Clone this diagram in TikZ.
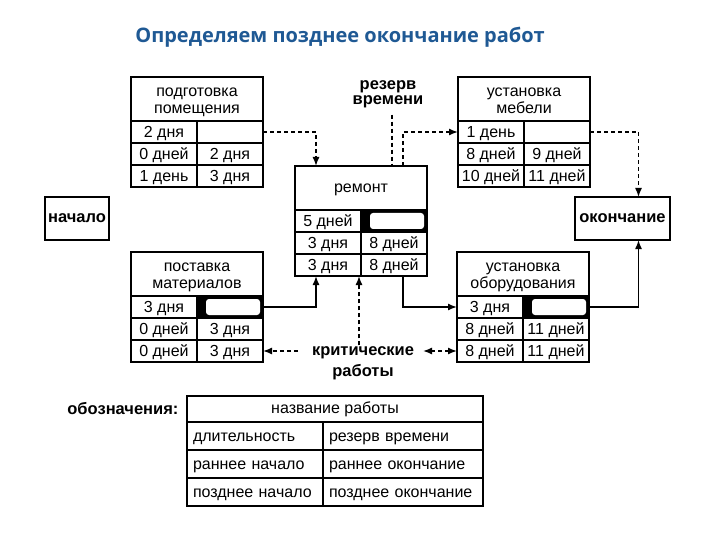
\documentclass[tikz,border=0pt]{standalone}
\usepackage{fontspec}
\setmainfont{Liberation Sans}
\newfontfamily\titlefont{Open Sans}
\usetikzlibrary{arrows.meta, positioning, calc}
\definecolor{titleblue}{RGB}{31,89,148}

\tikzset{
  cellfont/.style={font=\fontsize{16}{17}\selectfont},
  head/.style={draw, line width=1.5pt, outer sep=0pt, inner sep=0pt,
    minimum width=132pt, minimum height=44pt, align=center,
    text height=28.5pt, text depth=0pt, cellfont},
  onehead/.style={text height=8.5pt, text depth=0pt},
  cell/.style={draw, line width=1.5pt, outer sep=0pt, inner sep=0pt,
    minimum width=66pt, minimum height=22pt, text height=11.5pt, text depth=0pt, cellfont},
  blot/.style={cell, fill=black, path picture={
    \fill[white, rounded corners=3pt]
      ([xshift=9pt,yshift=-3pt]path picture bounding box.north west) rectangle
      ([xshift=-3pt,yshift=3pt]path picture bounding box.south east);}},
  endbox/.style={draw, line width=1.5pt, outer sep=0pt, minimum height=43pt,
    inner sep=2pt, font=\fontsize{16.5}{18}\selectfont\bfseries},
  label/.style={align=center, font=\fontsize{16.5}{16}\selectfont\bfseries},
  legcell/.style={draw, line width=1.5pt, outer sep=0pt, inner sep=6pt,
    minimum height=28pt, text height=11.5pt, text depth=0pt,
    anchor=north west, align=left, cellfont},
  conn/.style={line width=1.4pt, -{Latex[length=9pt,width=7pt]}},
  dconn/.style={conn, dash pattern=on 4pt off 3pt},
  dline/.style={line width=1.4pt, dash pattern=on 4pt off 3pt}
}

% box of one work: title, then three rows of two cells
\newcommand{\workbox}[9]{%
  \node[head, anchor=north west, #2] (#1) {#3};
  \node[cell, anchor=north west] (#1-a1) at (#1.south west) {#5};
  \node[#4, anchor=north east] (#1-a2) at (#1.south east) {};
  \node[cell, anchor=north] (#1-b1) at (#1-a1.south) {#6};
  \node[cell, anchor=north] (#1-b2) at (#1-a2.south) {#7};
  \node[cell, anchor=north] (#1-c1) at (#1-b1.south) {#8};
  \node[cell, anchor=north] (#1-c2) at (#1-b2.south) {#9};
}

\begin{document}
\begin{tikzpicture}[x=1pt, y=-1pt]
  \useasboundingbox (0,0) rectangle (720,540);

  \node[font=\titlefont\fontsize{20}{22}\selectfont\bfseries, text=titleblue]
    (title) at (340,37) {Определяем позднее окончание работ};

  % works
  \workbox{pod}{at={(131,77)}}{подготовка\\помещения}{cell}{2 дня}{0 дней}{2 дня}{1 день}{3 дня}
  \workbox{pos}{at={(131,252)}}{поставка\\материалов}{blot}{3 дня}{0 дней}{3 дня}{0 дней}{3 дня}
  \workbox{rem}{at={(295,166)}, onehead}{ремонт}{blot}{5 дней}{3 дня}{8 дней}{3 дня}{8 дней}
  \workbox{meb}{at={(458,77)}}{установка\\мебели}{cell}{1 день}{8 дней}{9 дней}{10 дней}{11 дней}
  \workbox{obo}{at={(457,252)}}{установка\\оборудования}{blot}{3 дня}{8 дней}{11 дней}{8 дней}{11 дней}

  \node[endbox, minimum width=64pt] (start) at (77,218.5) {начало};
  \node[endbox, minimum width=95pt] (finish) at (622.5,218.5) {окончание};

  \node[label] (res) at (388,87) {резерв};
  \node[label] (res2) at (388,102) {времени};
  \node[label] (crit) at (363,353) {критические};
  \node[label] (crit2) at (363,372) {работы};

  % connectors
  \draw[dconn] (pod-a2.east) -| ([xshift=21pt]rem.north west);
  \draw[dline] ([xshift=4pt,yshift=-3pt]res2.south) -- ([xshift=4pt]res2.south |- rem.north);
  \draw[dconn] ([xshift=-24pt]rem.north east) |- (meb-a1.west);
  \draw[dconn] (meb-a2.east) -| ([xshift=16pt]finish.north);
  \draw[conn] (pos-a2.east) -| ([xshift=21pt]rem-c1.south west);
  \draw[conn] ([xshift=-24pt]rem-c2.south east) |- (obo-a1.west);
  \draw[conn] (obo-a2.east) -| ([xshift=16pt]finish.south);
  \draw[dconn] ([xshift=-4pt,yshift=-2pt]crit.north) -- ([xshift=-4pt]crit.north |- rem-c1.south);
  \draw[dconn] ([xshift=35pt]pos-c2.east) -- (pos-c2.east);
  \draw[dconn, {Latex[length=9pt,width=7pt]}-{Latex[length=9pt,width=7pt]}]
    ([xshift=-34pt]obo-c1.west) -- (obo-c1.west);

  % legend
  \node[font=\fontsize{16.5}{18}\selectfont\bfseries, anchor=east] (legname) at (182,409) {обозначения:};
  \node[legcell, minimum width=296pt, minimum height=26pt] (leg) at (187,396) {};
  \node (legtitle) at (leg.center) [cellfont] {название работы};
  \node[legcell, text width=124pt] (leg-a1) at (leg.south west) {длительность};
  \node[legcell, text width=148pt] (leg-a2) at (leg-a1.north east) {резерв времени};
  \node[legcell, text width=124pt] (leg-b1) at (leg-a1.south west) {раннее начало};
  \node[legcell, text width=148pt] (leg-b2) at (leg-b1.north east) {раннее окончание};
  \node[legcell, text width=124pt] (leg-c1) at (leg-b1.south west) {позднее начало};
  \node[legcell, text width=148pt] (leg-c2) at (leg-c1.north east) {позднее окончание};
\end{tikzpicture}
\end{document}
